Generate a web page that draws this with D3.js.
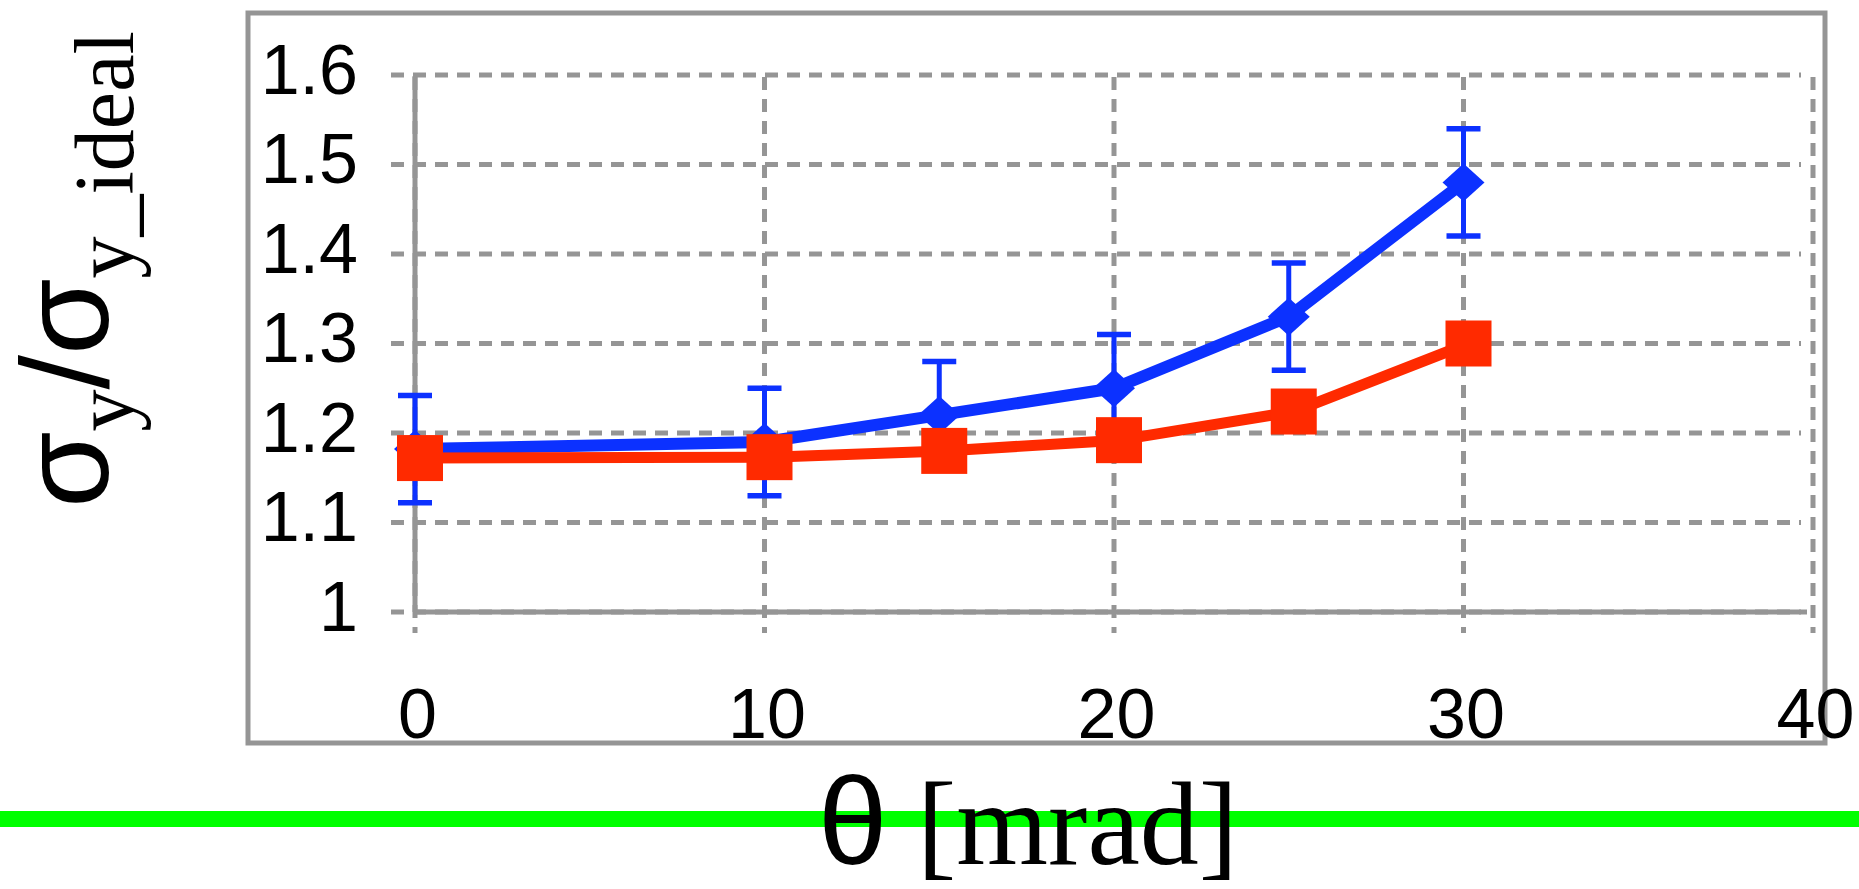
<!DOCTYPE html>
<html>
<head>
<meta charset="utf-8">
<script src="https://cdn.jsdelivr.net/npm/d3@7"></script>
<style>
  body { margin: 0; background: #fff; }
  svg { display: block; }
</style>
</head>
<body>
<div id="chart"></div>
<script>
(function(){
  // data
  var thetaVals = [0, 10, 15, 20, 25, 30];
  var blueVals = [1.182, 1.19, 1.22, 1.25, 1.33, 1.48];
  var blueErr = [0.06, 0.06, 0.06, 0.06, 0.06, 0.06];
  var redVals = [1.172, 1.173, 1.18, 1.192, 1.224, 1.30];
  var xTicks = [0, 10, 20, 30, 40];
  var yTicks = [1, 1.1, 1.2, 1.3, 1.4, 1.5, 1.6];
  var yTickLabels = ["1", "1.1", "1.2", "1.3", "1.4", "1.5", "1.6"];

  var width = 1859,
    height = 889;

  var grey = "#959595",
    blue = "#0c31ff",
    red = "#ff2a00";

  var svg = d3.select("#chart")
    .append("svg")
    .attr("width", width)
    .attr("height", height);

  var x = d3.scaleLinear().domain([0, 40]).range([415, 1813]);
  var y = d3.scaleLinear().domain([1, 1.6]).range([612, 75]);

  // green line behind the x title
  svg.append("rect")
    .attr("x", 0).attr("y", 811)
    .attr("width", width).attr("height", 16)
    .attr("fill", "#00ff00");

  // outer frame
  svg.append("rect")
    .attr("x", 248).attr("y", 13)
    .attr("width", 1577).attr("height", 730)
    .attr("fill", "none")
    .attr("stroke", grey)
    .attr("stroke-width", 5);

  // dashed grid (runs a bit past the axes like ticks)
  svg.append("g").selectAll("line")
    .data(yTicks)
    .enter().append("line")
    .attr("x1", x(0) - 24).attr("x2", x(40) - 12)
    .attr("y1", function(d){ return y(d); })
    .attr("y2", function(d){ return y(d); })
    .attr("stroke", grey)
    .attr("stroke-width", 5)
    .attr("stroke-dasharray", "13,9");

  svg.append("g").selectAll("line")
    .data(xTicks)
    .enter().append("line")
    .attr("x1", function(d){ return x(d); })
    .attr("x2", function(d){ return x(d); })
    .attr("y1", y(1.6) + 2).attr("y2", y(1) + 21)
    .attr("stroke", grey)
    .attr("stroke-width", 5)
    .attr("stroke-dasharray", "13,9");

  // solid axis lines
  svg.append("line")
    .attr("x1", x(0)).attr("x2", x(0))
    .attr("y1", y(1.6) + 1).attr("y2", y(1))
    .attr("stroke", grey).attr("stroke-width", 5);
  svg.append("line")
    .attr("x1", x(0) - 2).attr("x2", x(40) - 6)
    .attr("y1", y(1)).attr("y2", y(1))
    .attr("stroke", grey).attr("stroke-width", 5);

  // tick labels via d3 axes, no tick lines
  var yAxis = d3.axisLeft(y)
    .tickValues(yTicks)
    .tickSize(0)
    .tickFormat(function(d, i){ return yTickLabels[i]; });

  svg.append("g")
    .attr("transform", "translate(358,0)")
    .call(yAxis)
    .call(function(g){
      g.select(".domain").remove();
      g.selectAll("text")
        .attr("x", 0)
        .attr("dy", 18)
        .attr("fill", "#000")
        .style("font-family", "'Liberation Sans', Arial, sans-serif")
        .style("font-size", "70px");
    });

  var xAxis = d3.axisBottom(x)
    .tickValues(xTicks)
    .tickSize(0)
    .tickFormat(d3.format("d"));

  svg.append("g")
    .attr("transform", "translate(2,0)")
    .call(xAxis)
    .call(function(g){
      g.select(".domain").remove();
      g.selectAll("text")
        .attr("y", 738)
        .attr("dy", 0)
        .attr("fill", "#000")
        .style("font-family", "'Liberation Sans', Arial, sans-serif")
        .style("font-size", "70px");
    });

  var line = d3.line()
    .x(function(d){ return x(d[0]); })
    .y(function(d){ return y(d[1]); });

  // blue series with error bars
  var bluePts = thetaVals.map(function(t, i){ return [t, blueVals[i], blueErr[i]]; });

  var blueG = svg.append("g");

  blueG.append("path")
    .datum(bluePts)
    .attr("d", line)
    .attr("fill", "none")
    .attr("stroke", blue)
    .attr("stroke-width", 12)
    .attr("stroke-linejoin", "round");

  var errs = blueG.selectAll(".err")
    .data(bluePts)
    .enter().append("g")
    .attr("class", "err");

  errs.append("line")
    .attr("x1", function(d){ return x(d[0]); })
    .attr("x2", function(d){ return x(d[0]); })
    .attr("y1", function(d){ return y(d[1] + d[2]); })
    .attr("y2", function(d){ return y(d[1] - d[2]); })
    .attr("stroke", blue).attr("stroke-width", 5);

  errs.selectAll(".cap")
    .data(function(d){ return [d[1] + d[2], d[1] - d[2]].map(function(v){ return [d[0], v]; }); })
    .enter().append("line")
    .attr("class", "cap")
    .attr("x1", function(d){ return x(d[0]) - 17; })
    .attr("x2", function(d){ return x(d[0]) + 17; })
    .attr("y1", function(d){ return y(d[1]); })
    .attr("y2", function(d){ return y(d[1]); })
    .attr("stroke", blue).attr("stroke-width", 5.5);

  blueG.selectAll(".diamond")
    .data(bluePts)
    .enter().append("path")
    .attr("class", "diamond")
    .attr("d", "M0,-19L21,0L0,19L-21,0Z")
    .attr("transform", function(d){ return "translate(" + x(d[0]) + "," + y(d[1]) + ")"; })
    .attr("fill", blue);

  // red series, drawn over blue, sits a few px right
  var redPts = thetaVals.map(function(t, i){ return [t, redVals[i]]; });

  var redG = svg.append("g").attr("transform", "translate(5,0)");

  redG.append("path")
    .datum(redPts)
    .attr("d", line)
    .attr("fill", "none")
    .attr("stroke", red)
    .attr("stroke-width", 11)
    .attr("stroke-linejoin", "round");

  redG.selectAll(".sq")
    .data(redPts)
    .enter().append("rect")
    .attr("class", "sq")
    .attr("x", function(d){ return x(d[0]) - 23; })
    .attr("y", function(d){ return y(d[1]) - 23; })
    .attr("width", 46).attr("height", 46)
    .attr("fill", red);

  // x title
  var xt = svg.append("text")
    .attr("x", 818).attr("y", 864)
    .attr("fill", "#000");
  xt.append("tspan")
    .style("font-family", "'Liberation Sans', Arial, sans-serif")
    .style("font-size", "125px")
    .text("θ");
  xt.append("tspan")
    .style("font-family", "'Liberation Serif', 'Times New Roman', serif")
    .style("font-size", "118px")
    .text(" [mrad]");

  // y title, rotated
  var yt = svg.append("text")
    .attr("transform", "translate(108,508) rotate(-90)")
    .attr("fill", "#000");
  yt.append("tspan")
    .style("font-family", "'Liberation Sans', Arial, sans-serif")
    .style("font-size", "124px")
    .text("σ");
  yt.append("tspan")
    .attr("dy", 25)
    .style("font-family", "'Liberation Serif', 'Times New Roman', serif")
    .style("font-size", "84px")
    .text("y");
  yt.append("tspan")
    .attr("dy", -25)
    .style("font-family", "'Liberation Sans', Arial, sans-serif")
    .style("font-size", "124px")
    .text("/σ");
  yt.append("tspan")
    .attr("dy", 25)
    .style("font-family", "'Liberation Serif', 'Times New Roman', serif")
    .style("font-size", "84px")
    .text("y_ideal");
})();
</script>
</body>
</html>
